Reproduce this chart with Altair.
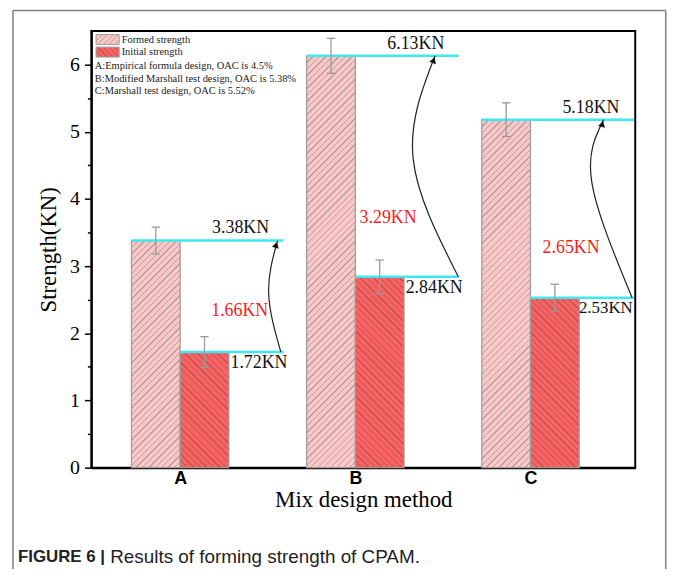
import altair as alt
import pandas as pd

# ---------------- data ----------------
methods = ["A", "B", "C"]
formed = [3.38, 6.13, 5.18]
initial = [1.72, 2.84, 2.53]
formed_err = [0.20, 0.26, 0.25]
initial_err = [0.23, 0.25, 0.20]
gain_labels = ["1.66KN", "3.29KN", "2.65KN"]
series = ["Formed strength", "Initial strength"]
notes = [
    "A:Empirical formula design, OAC is 4.5%",
    "B:Modified Marshall test design, OAC is 5.38%",
    "C:Marshall test design, OAC is 5.52%",
]
caption_bold = "FIGURE 6 |"
caption_text = "Results of forming strength of CPAM."
y_ticks = [0, 0.5, 1, 1.5, 2, 2.5, 3, 3.5, 4, 4.5, 5, 5.5, 6]

# ---------------- layout / style ----------------
W, H = 548, 440
XMIN, XMAX = -0.507, 2.598
YMAX = 6.5
BW = 0.278          # bar width (x units)
LINE_END = 0.59     # cyan guide line end, relative to group centre
PXX = W / (XMAX - XMIN)
PXY = H / YMAX

gain_pos_x = [0.34, 0.187, 0.232]
gain_pos_y = [2.33, 3.71, 3.27]
init_label_dx = [0.45, 0.45, 0.43]
init_label_size = [18, 18, 17]
arrow_x = [[0.575, 0.505, 0.556], [0.588, 0.33, 0.455], [0.58, 0.35, 0.418]]
arrow_mid_y = [2.6, 4.6, 4.25]
arrow_angle = [17, 20, 14]

PINK, PINK_LINE = "#fbc6c6", "#b8a0a0"
RED, RED_LINE = "#f86262", "#c45454"
CYAN = "#3ee8f2"
SERIF = "Liberation Serif"
SANS = "Liberation Sans"


def hatch(w, h, base, line, direction, period=6.5, frac=0.22):
    r = h / w
    a = (1 + r) / (1 + r * r)
    n = max(1, round((w + h) / period))
    stops = []
    for k in range(n):
        t0 = round(k / n, 5)
        t1 = round((k + frac) / n, 5)
        t2 = round((k + 1) / n, 5)
        stops += [
            alt.GradientStop(offset=t0, color=line),
            alt.GradientStop(offset=t1, color=line),
            alt.GradientStop(offset=t1, color=base),
            alt.GradientStop(offset=t2, color=base),
        ]
    if direction == "/":
        return alt.LinearGradient(gradient="linear", stops=stops, x1=0, y1=0, x2=a, y2=a * r)
    return alt.LinearGradient(gradient="linear", stops=stops, x1=0, y1=1, x2=a, y2=1 - a * r)


rows = []
for i, m in enumerate(methods):
    rows.append(dict(method=m, idx=i, kind=series[0], value=formed[i], err=formed_err[i], side=-1,
                     ldx=0.345, fs=18))
    rows.append(dict(method=m, idx=i, kind=series[1], value=initial[i], err=initial_err[i], side=0,
                     ldx=init_label_dx[i], fs=init_label_size[i]))
df = pd.DataFrame(rows)

xs = alt.Scale(domain=[XMIN, XMAX], nice=False, zero=False)
ys = alt.Scale(domain=[0, YMAX], nice=False, zero=True)

xaxis = alt.Axis(
    values=[0, 1, 2], labelExpr=f"{methods}[datum.value]", ticks=False, grid=False,
    labelFont=SANS, labelFontWeight="bold", labelFontSize=18, labelColor="black", labelPadding=2,
    title="Mix design method", titleFont=SERIF, titleFontSize=23, titleFontWeight="normal",
    titleColor="black", titlePadding=1, domainColor="black", domainWidth=2,
)
yaxis = alt.Axis(
    values=y_ticks, labelExpr="datum.value % 1 === 0 ? format(datum.value, '.0f') : ''", grid=False,
    tickSize={"condition": {"test": "datum.value % 1 === 0", "value": 7}, "value": 4},
    tickColor="black", tickWidth=1.5, labelFont=SERIF, labelFontSize=20, labelColor="black",
    labelPadding=5, title="Strength(KN)", titleFont=SERIF, titleFontSize=23,
    titleFontWeight="normal", titleColor="black", titlePadding=9,
    domainColor="black", domainWidth=2,
)


def X(f):
    return alt.X(f, type="quantitative", scale=xs, axis=xaxis)


def Y(f):
    return alt.Y(f, type="quantitative", scale=ys, axis=yaxis)


base = alt.Chart(df).transform_calculate(
    x0=f"datum.idx + datum.side * {BW}",
    x1=f"datum.idx + (datum.side + 1) * {BW}",
    xc=f"datum.idx + (datum.side + 0.5) * {BW}",
    lo="datum.value - datum.err",
    hi="datum.value + datum.err",
    lend=f"datum.idx + {LINE_END}",
    zero="0",
)

layers = []
# hatched bars
for i in range(3):
    for side, vals, col, lcol, d in [(-1, formed, PINK, PINK_LINE, "/"), (0, initial, RED, RED_LINE, "\\")]:
        g = hatch(BW * PXX, vals[i] * PXY, col, lcol, d)
        layers.append(
            base.transform_filter(f"datum.idx === {i} && datum.side === {side}")
            .mark_rect(fill=g, stroke="#9a9a9a", strokeWidth=1.2)
            .encode(x=X("x0"), x2="x1:Q", y=Y("zero"), y2="value:Q")
        )

# cyan guide lines
layers.append(base.mark_rule(color=CYAN, strokeWidth=2.5).encode(x=X("x0"), x2="lend:Q", y=Y("value")))

# error bars
layers.append(base.mark_rule(color="#9a9a9a", strokeWidth=1.3).encode(x=X("xc"), y=Y("lo"), y2="hi:Q"))
layers.append(
    base.transform_fold(["lo", "hi"], as_=["end", "cap"])
    .transform_calculate(c0="datum.xc - 0.024", c1="datum.xc + 0.024")
    .mark_rule(color="#9a9a9a", strokeWidth=1.3)
    .encode(x=X("c0"), x2="c1:Q", y=Y("cap"))
)

# value labels
layers.append(
    base.transform_calculate(
        lx="datum.idx + datum.ldx",
        ly="datum.value + (datum.side === -1 ? 0.18 : -0.16)",
        label="format(datum.value, '.2f') + 'KN'",
    )
    .mark_text(font=SERIF, color="#111")
    .encode(x=X("lx"), y=Y("ly"), text="label:N", size=alt.Size("fs:Q", scale=None))
)

# gain labels (red)
gdf = pd.DataFrame({"idx": [0, 1, 2], "label": gain_labels, "gx": gain_pos_x, "gy": gain_pos_y})
layers.append(
    alt.Chart(gdf).transform_calculate(px="datum.idx + datum.gx")
    .mark_text(font=SERIF, fontSize=18, color="#ff1a1a")
    .encode(x=X("px"), y=Y("gy"), text="label:N")
)

# curved arrows
arows = []
for i in range(3):
    ys_pts = [initial[i], arrow_mid_y[i], formed[i]]
    for k in range(3):
        arows.append(dict(method=methods[i], k=k, ax=i + arrow_x[i][k], ay=ys_pts[k]))
adf = pd.DataFrame(arows)
layers.append(
    alt.Chart(adf).mark_line(color="#222", strokeWidth=1.2, interpolate="natural")
    .encode(x=X("ax"), y=Y("ay"), detail="method:N", order="k:Q")
)
hdf = pd.DataFrame({"idx": [0, 1, 2], "hx": [a[2] for a in arrow_x], "hy": formed, "ang": arrow_angle})
layers.append(
    alt.Chart(hdf).transform_calculate(px="datum.idx + datum.hx - 0.008", py="datum.hy - 0.065")
    .mark_point(shape="triangle-up", filled=True, color="#111", size=50, opacity=1)
    .encode(x=X("px"), y=Y("py"), angle=alt.Angle("ang:Q", scale=None))
)

# legend (top-left inside plot)
one = alt.Chart(pd.DataFrame({"a": [0]}))
layers.append(one.mark_rect(fill=hatch(23.3, 10, PINK, PINK_LINE, "/", period=6), stroke="#9a9a9a", strokeWidth=1)
              .encode(x=alt.value(4.7), x2=alt.value(28), y=alt.value(3.7), y2=alt.value(13.7)))
layers.append(one.mark_rect(fill=hatch(23.3, 10, RED, RED_LINE, "\\", period=6), stroke="#9a9a9a", strokeWidth=1)
              .encode(x=alt.value(4.7), x2=alt.value(28), y=alt.value(16.3), y2=alt.value(26.3)))
for txt, yy in zip(series, [8.7, 21.3]):
    layers.append(one.mark_text(text=txt, font=SERIF, fontSize=10.5, color="#222", align="left", baseline="middle")
                  .encode(x=alt.value(30.5), y=alt.value(yy)))
for txt, yy in zip(notes, [35, 48, 61]):
    layers.append(one.mark_text(text=txt, font=SERIF, fontSize=10.5, color="#222", align="left", baseline="middle")
                  .encode(x=alt.value(3.5), y=alt.value(yy)))

# outer figure frame and caption
FR = "#808080"
layers.append(one.mark_rule(color=FR, strokeWidth=1.5).encode(x=alt.value(-79), y=alt.value(-20.5), y2=alt.value(560)))
layers.append(one.mark_rule(color=FR, strokeWidth=1.5).encode(x=alt.value(578.7), y=alt.value(-20.5), y2=alt.value(560)))
layers.append(one.mark_rule(color=FR, strokeWidth=1.5).encode(x=alt.value(-79), x2=alt.value(578.7), y=alt.value(-20.5)))
layers.append(one.mark_text(text=caption_bold, font=SANS, fontSize=17, fontWeight="bold", color="#222",
                            align="left", baseline="middle").encode(x=alt.value(-74), y=alt.value(530)))
layers.append(one.mark_text(text=caption_text, font=SANS, fontSize=19, color="#222",
                            align="left", baseline="middle").encode(x=alt.value(19), y=alt.value(530)))

chart = (
    alt.layer(*layers)
    .properties(
        width=W, height=H,
        padding={"left": 84, "top": 21, "right": 32, "bottom": 100},
        autosize=alt.AutoSizeParams(type="none"),
        background="white",
    )
    .configure_view(stroke="black", strokeWidth=2)
)

chart.save("out.html", embed_options={"renderer": "svg", "actions": False})
